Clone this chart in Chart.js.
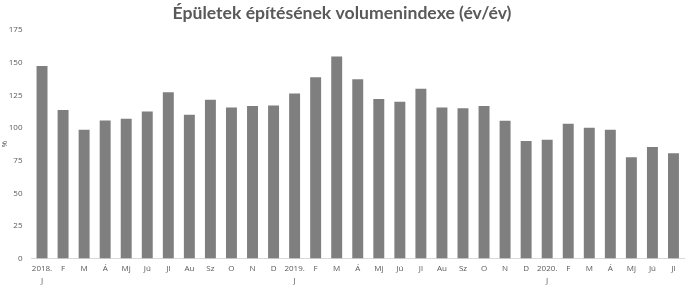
<!DOCTYPE html>
<html><head><meta charset="utf-8">
<script src="https://cdn.jsdelivr.net/npm/chart.js@4/dist/chart.umd.min.js"></script>
<style>html,body{margin:0;padding:0;background:#fff}#wrap{width:690px;height:287px}</style>
</head><body><div id="wrap"><canvas id="c" width="690" height="287"></canvas></div>
<script>
const categories = [["2018.","J"],"F","M","Á","Mj","Jú","Jl","Au","Sz","O","N","D",["2019.","J"],"F","M","Á","Mj","Jú","Jl","Au","Sz","O","N","D",["2020.","J"],"F","M","Á","Mj","Jú","Jl"];
const values = [147.5,113.7,98.6,105.8,107,112.7,127.3,110.1,121.7,115.8,116.8,117.3,126.5,138.8,154.8,137.3,122.2,120.1,130.1,115.8,115.2,116.8,105.5,90.1,90.9,103.2,100.1,98.6,77.5,85.5,80.6];
const titleText = "Épületek építésének volumenindexe (év/év)";
const yTitle = "%";
const yMax = 175, yStep = 25;

new Chart(document.getElementById('c'), {
  type: 'bar',
  data: { labels: categories, datasets: [{ data: values, backgroundColor: '#7f7f7f', barPercentage: 0.52, categoryPercentage: 1 }] },
  options: {
    responsive: false, animation: false,
    layout: { padding: { left: 0, right: 6, top: 0, bottom: 0 } },
    plugins: {
      legend: { display: false }, tooltip: { enabled: false },
      title: { display: true, text: titleText, color: '#595959', font: { family: 'Lato', size: 17.6, weight: 'bold' }, padding: { top: 3, bottom: 6 } }
    },
    scales: {
      x: {
        afterFit: s => { s.height = 28.5; },
        grid: { display: false, drawTicks: false },
        border: { display: true, color: '#d9d9d9' },
        ticks: { color: '#595959', font: { family: 'Open Sans', size: 8, lineHeight: 1.5 }, maxRotation: 0, autoSkip: false, padding: 4 }
      },
      y: {
        min: 0, max: yMax,
        afterFit: s => { s.width = 31.5; },
        grid: { display: false, drawTicks: false },
        border: { display: false },
        title: { display: true, text: yTitle, color: '#595959', font: { family: 'Open Sans', size: 8 }, padding: 0 },
        ticks: { stepSize: yStep, color: '#595959', font: { family: 'Open Sans', size: 8 }, padding: 9 }
      }
    }
  }
});
</script></body></html>
